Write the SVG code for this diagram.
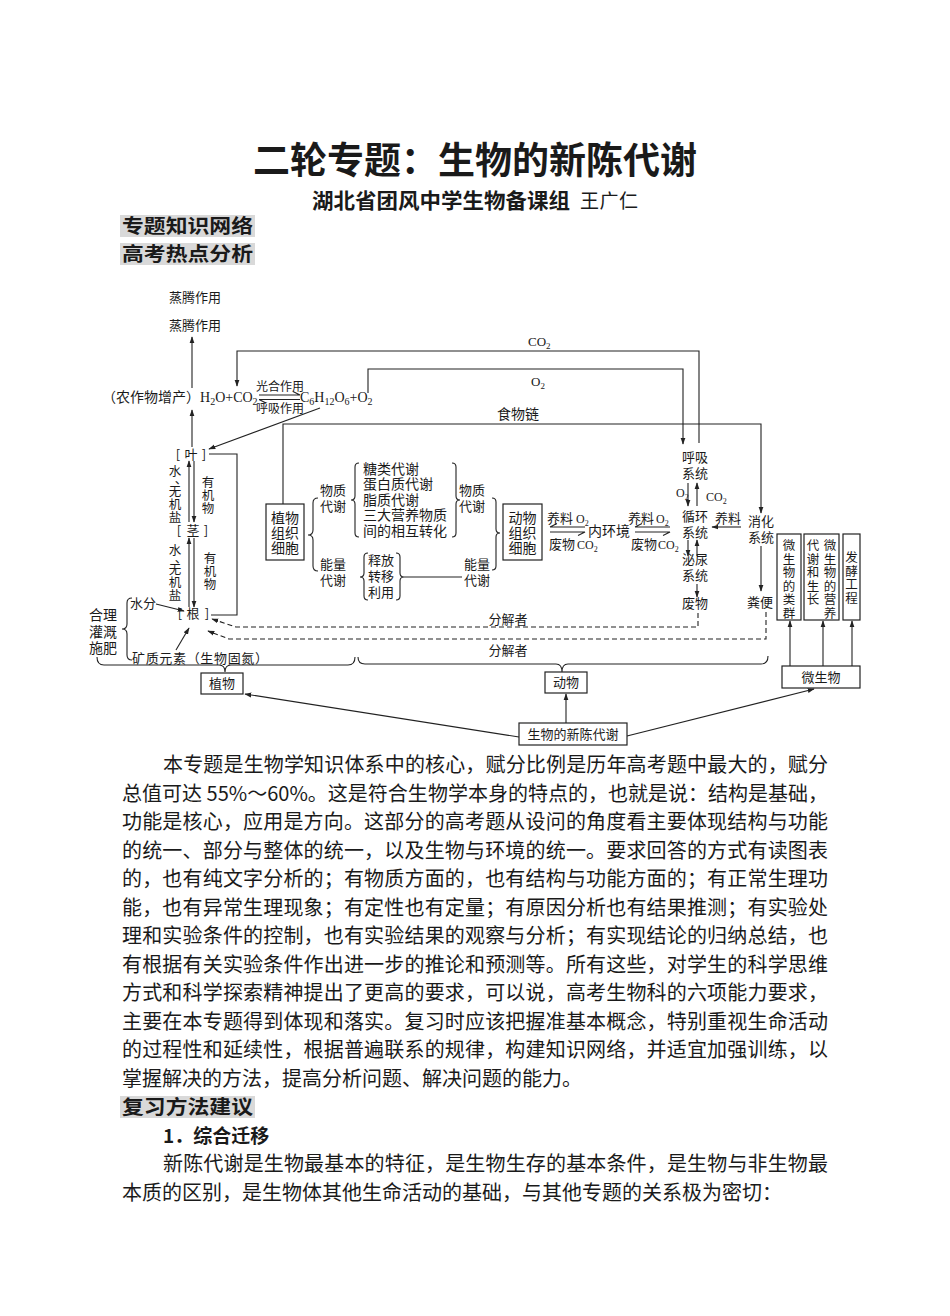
<svg xmlns="http://www.w3.org/2000/svg" width="950" height="1316" viewBox="0 0 950 1316">
<defs>
<style>
.c{font-family:"Noto Sans CJK SC","Noto Sans",sans-serif;fill:#1a1a1a}
.d{font-size:13px}
.v{font-size:12.5px}
.e{font-size:14px}
.m{text-anchor:middle}
.s{font-family:"Liberation Serif","Noto Sans CJK SC",serif;fill:#1a1a1a;font-size:13px}
.ln{stroke:#222;stroke-width:1.1;fill:none}
.ds{stroke:#222;stroke-width:1.1;fill:none;stroke-dasharray:5 3}
.bx{fill:#fff;stroke:#222;stroke-width:1.2}
.p{font-size:20px}
.lab{fill:#d9d9d9}
.lt{font-size:19.5px;font-weight:700}
</style>
<marker id="a" viewBox="0 0 10 10" refX="9" refY="5" markerWidth="7" markerHeight="7" markerUnits="userSpaceOnUse" orient="auto"><path d="M0,1.5 L10,5 L0,8.5 z" fill="#222"/></marker>
</defs>
<rect width="950" height="1316" fill="#fff"/>

<g id="header">
<text x="475" y="174" class="c m" style="font-size:37px;font-weight:700" textLength="444" lengthAdjust="spacingAndGlyphs">二轮专题：生物的新陈代谢</text>
<text x="312" y="208" class="c" style="font-size:21px;font-weight:700" textLength="258" lengthAdjust="spacingAndGlyphs">湖北省团风中学生物备课组</text>
<text x="580" y="208" class="c" style="font-size:19px" textLength="58">王广仁</text>
<rect x="120" y="215" width="135" height="22" class="lab"/>
<text x="122" y="233" class="c lt" textLength="131" lengthAdjust="spacingAndGlyphs">专题知识网络</text>
<rect x="120" y="243" width="135" height="22" class="lab"/>
<text x="122" y="261" class="c lt" textLength="131" lengthAdjust="spacingAndGlyphs">高考热点分析</text>
</g>

<g id="connectors">
<path class="ln" d="M192,388 V337" marker-end="url(#a)"/>
<path class="ln" d="M192,447 V410" marker-end="url(#a)"/>
<path class="ln" d="M699,443 V351 H237 V386" marker-end="url(#a)"/>
<path class="ln" d="M368,393 V369 H683 V444" marker-end="url(#a)"/>
<path class="ln" d="M283,504 V424 H761 V513" marker-end="url(#a)"/>
<path class="ln" d="M320,408 L209,449" marker-end="url(#a)"/>
<path class="ln" d="M259,395 H300 L293,391.5"/>
<path class="ln" d="M259,399.5 H300 M259,399.5 L266,403"/>
<path class="ln" d="M209,454 H237 V615 H211"/>
<path class="ln" d="M189,522 V461" marker-end="url(#a)"/>
<path class="ln" d="M194,461 V522" marker-end="url(#a)"/>
<path class="ln" d="M189,607 V538" marker-end="url(#a)"/>
<path class="ln" d="M194,538 V607" marker-end="url(#a)"/>
<path class="ln" d="M156,604 L184,611" marker-end="url(#a)"/>
<path class="ln" d="M176,650 L189,628" marker-end="url(#a)"/>
<path class="ln" d="M132,598 Q127,598 127,603 V624 Q127,629 122,629 Q127,629 127,634 V655 Q127,660 132,660"/>
<path class="ds" d="M698,613 V627 H236 L212,619" marker-end="url(#a)"/>
<path class="ds" d="M766,612 V639 H229 L208,631" marker-end="url(#a)"/>
<path class="ln" d="M318,498 Q313,498 313,503 V530 Q313,535 308,535 Q313,535 313,540 V566 Q313,571 318,571"/>
<path class="ln" d="M359,463 Q355,463 355,467 V496 Q355,500 351,500 Q355,500 355,504 V533 Q355,537 359,537"/>
<path class="ln" d="M452,463 Q456,463 456,467 V496 Q456,500 460,500 Q456,500 456,504 V533 Q456,537 452,537"/>
<path class="ln" d="M492,498 Q496,498 496,502 V529 Q496,533 500,533 Q496,533 496,537 V566 Q496,570 492,570"/>
<path class="ln" d="M368,553 Q364,553 364,557 V573 Q364,577 360,577 Q364,577 364,581 V596 Q364,600 368,600"/>
<path class="ln" d="M396,553 Q400,553 400,557 V573 Q400,577 404,577 Q400,577 400,581 V596 Q400,600 396,600"/>
<path class="ln" d="M404,577 H462"/>
<path class="ln" d="M550,527 H585 M550,527 L557,523.5"/>
<path class="ln" d="M550,532 H585 L578,535.5"/>
<path class="ln" d="M635,527 H670 M635,527 L642,523.5"/>
<path class="ln" d="M635,532 H670 L663,535.5"/>
<path class="ln" d="M688,483 V506" marker-end="url(#a)"/>
<path class="ln" d="M697,506 V483" marker-end="url(#a)"/>
<path class="ln" d="M741,527 H712" marker-end="url(#a)"/>
<path class="ln" d="M688,540 V556" marker-end="url(#a)"/>
<path class="ln" d="M697,556 V540" marker-end="url(#a)"/>
<path class="ln" d="M697,584 V597" marker-end="url(#a)"/>
<path class="ln" d="M761,546 V591" marker-end="url(#a)"/>
<path class="ln" d="M97,657 Q97,665 104,665 H219 Q225,665 225,672 Q225,665 231,665 H348 Q355,665 355,657"/>
<path class="ln" d="M358,657 Q358,664 365,664 H556 Q562,664 562,672 Q562,664 568,664 H761 Q768,664 768,656"/>
<path class="ln" d="M519,737 L245,694" marker-end="url(#a)"/>
<path class="ln" d="M566,723 V694" marker-end="url(#a)"/>
<path class="ln" d="M627,736 L814,689" marker-end="url(#a)"/>
<path class="ln" d="M790,666 V621" marker-end="url(#a)"/>
<path class="ln" d="M823,666 V621" marker-end="url(#a)"/>
<path class="ln" d="M852,666 V621" marker-end="url(#a)"/>
</g>

<g id="n-transpiration">
<text x="195" y="302" class="c d m">蒸腾作用</text>
<text x="195" y="330" class="c d m">蒸腾作用</text>
</g>
<g id="n-equation">
<text x="102" y="402" class="c e">（农作物增产）</text>
<text x="200" y="402" class="s" style="font-size:14px">H<tspan font-size="10" dy="3">2</tspan><tspan dy="-3">O+CO</tspan><tspan font-size="10" dy="3">2</tspan></text>
<text x="280" y="391" class="c m" style="font-size:12px">光合作用</text>
<text x="280" y="413" class="c m" style="font-size:12px">呼吸作用</text>
<text x="300" y="402" class="s" style="font-size:14px">C<tspan font-size="10" dy="3">6</tspan><tspan dy="-3">H</tspan><tspan font-size="10" dy="3">12</tspan><tspan dy="-3">O</tspan><tspan font-size="10" dy="3">6</tspan><tspan dy="-3">+O</tspan><tspan font-size="10" dy="3">2</tspan></text>
</g>
<g id="n-labels">
<text x="528" y="346" class="s" style="font-size:13px">CO<tspan font-size="9" dy="3">2</tspan></text>
<text x="531" y="386" class="s" style="font-size:13px">O<tspan font-size="9" dy="3">2</tspan></text>
<text x="518" y="419" class="c e m">食物链</text>
<text x="508" y="624" class="c d m">分解者</text>
<text x="508" y="655" class="c d m">分解者</text>
</g>
<g id="n-leaf">
<text x="178 191 204" y="459" class="c d m">[叶]</text>
</g>
<g id="n-stem">
<text x="179 193 206" y="535" class="c d m">[茎]</text>
</g>
<g id="n-root">
<text x="180 193 207" y="618" class="c d m">[根]</text>
</g>
<g id="n-transport">
<text x="175 181 175 175 175" y="476 484 496 509 522" class="c v m">水、无机盐</text>
<text x="208 208 208" y="487 500 513" class="c v m">有机物</text>
<text x="175 181 175 175 175" y="555 563 574 587 600" class="c v m">水、无机盐</text>
<text x="210 210 210" y="563 576 589" class="c v m">有机物</text>
</g>
<g id="n-irrigation">
<text x="143" y="608" class="c d m">水分</text>
<text x="103" y="620" class="c e m">合理</text>
<text x="103" y="637" class="c e m">灌溉</text>
<text x="103" y="653" class="c e m">施肥</text>
<text x="132" y="663" class="c d" textLength="136">矿质元素（生物固氮）</text>
</g>
<g id="n-plantcell">
<rect x="266" y="504" width="38" height="56" class="bx"/>
<text x="285" y="523" class="c e m">植物</text>
<text x="285" y="538" class="c e m">组织</text>
<text x="285" y="553" class="c e m">细胞</text>
</g>
<g id="n-metabolism">
<text x="333" y="495" class="c d m">物质</text>
<text x="333" y="511" class="c d m">代谢</text>
<text x="333" y="569" class="c d m">能量</text>
<text x="333" y="585" class="c d m">代谢</text>
<text x="363" y="474" class="c e">糖类代谢</text>
<text x="363" y="489" class="c e">蛋白质代谢</text>
<text x="363" y="505" class="c e">脂质代谢</text>
<text x="363" y="520" class="c e">三大营养物质</text>
<text x="363" y="536" class="c e">间的相互转化</text>
<text x="472" y="495" class="c d m">物质</text>
<text x="472" y="511" class="c d m">代谢</text>
<text x="477" y="569" class="c d m">能量</text>
<text x="477" y="585" class="c d m">代谢</text>
<text x="381" y="565" class="c d m">释放</text>
<text x="381" y="581" class="c d m">转移</text>
<text x="381" y="597" class="c d m">利用</text>
</g>
<g id="n-animalcell">
<rect x="503" y="504" width="39" height="56" class="bx"/>
<text x="522.5" y="523" class="c e m">动物</text>
<text x="522.5" y="538" class="c e m">组织</text>
<text x="522.5" y="553" class="c e m">细胞</text>
</g>
<g id="n-exchange">
<text x="560" y="523" class="c d m">养料</text>
<text x="576" y="523" class="s" style="font-size:12px">O<tspan font-size="8" dy="3">2</tspan></text>
<text x="562" y="549" class="c d m">废物</text>
<text x="577" y="549" class="s" style="font-size:12px">CO<tspan font-size="8" dy="3">2</tspan></text>
<text x="588" y="536" class="c e">内环境</text>
<text x="641" y="523" class="c d m">养料</text>
<text x="656" y="523" class="s" style="font-size:12px">O<tspan font-size="8" dy="3">2</tspan></text>
<text x="644" y="549" class="c d m">废物</text>
<text x="658" y="549" class="s" style="font-size:12px">CO<tspan font-size="8" dy="3">2</tspan></text>
</g>
<g id="n-systems">
<text x="695" y="462" class="c d m">呼吸</text>
<text x="695" y="478" class="c d m">系统</text>
<text x="676" y="497" class="s" style="font-size:12px">O<tspan font-size="8" dy="3">2</tspan></text>
<text x="706" y="501" class="s" style="font-size:12px">CO<tspan font-size="8" dy="3">2</tspan></text>
<text x="695" y="521" class="c d m">循环</text>
<text x="695" y="537" class="c d m">系统</text>
<text x="728" y="523" class="c d m">养料</text>
<text x="761" y="526" class="c d m">消化</text>
<text x="761" y="542" class="c d m">系统</text>
<text x="695" y="564" class="c d m">泌尿</text>
<text x="695" y="580" class="c d m">系统</text>
<text x="695" y="608" class="c d m">废物</text>
<text x="760" y="607" class="c d m">粪便</text>
</g>
<g id="n-microbe-boxes">
<rect x="777" y="534" width="24" height="86" class="bx"/>
<text x="789 789 789 789 789 789" y="550 563.5 577 590.5 604 617.5" class="c v m">微生物的类群</text>
<rect x="804" y="534" width="35" height="86" class="bx"/>
<text x="830 830 830 830 830 830" y="550 563.5 577 590.5 604 617.5" class="c v m">微生物的营养</text>
<text x="813 813 813 813 813" y="550 563.5 577 590.5 604" class="c v m">代谢和生长</text>
<rect x="843" y="534" width="17" height="86" class="bx"/>
<text x="851.5 851.5 851.5 851.5" y="562 575.5 589 602.5" class="c v m">发酵工程</text>
</g>
<g id="n-plant">
<rect x="201" y="673" width="42" height="21" class="bx"/>
<text x="222" y="688" class="c d m">植物</text>
</g>
<g id="n-animal">
<rect x="545" y="672" width="42" height="21" class="bx"/>
<text x="566" y="687" class="c d m">动物</text>
</g>
<g id="n-microbe">
<rect x="782" y="666" width="78" height="22" class="bx"/>
<text x="821" y="682" class="c d m">微生物</text>
</g>
<g id="n-root-node">
<rect x="519" y="723" width="108" height="22" class="bx"/>
<text x="573" y="739" class="c d m">生物的新陈代谢</text>
</g>

<g id="body">
<text x="163" y="772" class="c p" textLength="665">本专题是生物学知识体系中的核心，赋分比例是历年高考题中最大的，赋分</text>
<text x="122" y="800.5" class="c p" textLength="706">总值可达 55%～60%。这是符合生物学本身的特点的，也就是说：结构是基础，</text>
<text x="122" y="829" class="c p" textLength="706">功能是核心，应用是方向。这部分的高考题从设问的角度看主要体现结构与功能</text>
<text x="122" y="857.5" class="c p" textLength="706">的统一、部分与整体的统一，以及生物与环境的统一。要求回答的方式有读图表</text>
<text x="122" y="886" class="c p" textLength="706">的，也有纯文字分析的；有物质方面的，也有结构与功能方面的；有正常生理功</text>
<text x="122" y="914.5" class="c p" textLength="706">能，也有异常生理现象；有定性也有定量；有原因分析也有结果推测；有实验处</text>
<text x="122" y="943" class="c p" textLength="706">理和实验条件的控制，也有实验结果的观察与分析；有实现结论的归纳总结，也</text>
<text x="122" y="971.5" class="c p" textLength="706">有根据有关实验条件作出进一步的推论和预测等。所有这些，对学生的科学思维</text>
<text x="122" y="1000" class="c p" textLength="706">方式和科学探索精神提出了更高的要求，可以说，高考生物科的六项能力要求，</text>
<text x="122" y="1028.5" class="c p" textLength="706">主要在本专题得到体现和落实。复习时应该把握准基本概念，特别重视生命活动</text>
<text x="122" y="1057" class="c p" textLength="706">的过程性和延续性，根据普遍联系的规律，构建知识网络，并适宜加强训练，以</text>
<text x="122" y="1085.5" class="c p">掌握解决的方法，提高分析问题、解决问题的能力。</text>
<rect x="120" y="1096" width="135" height="22" class="lab"/>
<text x="122" y="1114" class="c lt" textLength="131" lengthAdjust="spacingAndGlyphs">复习方法建议</text>
<text x="163" y="1143" class="c" style="font-size:19px;font-weight:700">1．综合迁移</text>
<text x="163" y="1171" class="c p" textLength="665">新陈代谢是生物最基本的特征，是生物生存的基本条件，是生物与非生物最</text>
<text x="122" y="1200" class="c p">本质的区别，是生物体其他生命活动的基础，与其他专题的关系极为密切：</text>
</g>
</svg>
